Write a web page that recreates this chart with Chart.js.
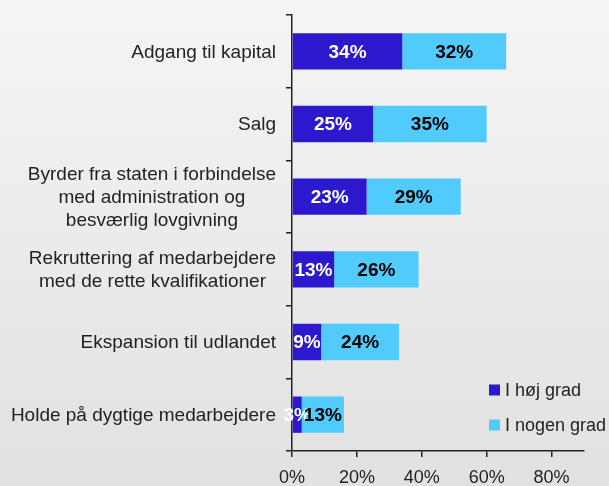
<!DOCTYPE html>
<html>
<head>
<meta charset="utf-8">
<script src="https://cdn.jsdelivr.net/npm/chart.js@4"></script>
<style>
  html, body { margin: 0; padding: 0; }
  body { width: 609px; height: 486px; background: linear-gradient(to bottom, #f5f5f5 0%, #e1e1e1 100%); overflow: hidden; }
  canvas { display: block; }
</style>
</head>
<body>
<canvas id="c" width="609" height="486"></canvas>
<script>
const categories = [
  ["Adgang til kapital"],
  ["Salg"],
  ["Byrder fra staten i forbindelse", "med administration og", "besværlig lovgivning"],
  ["Rekruttering af medarbejdere", "med de rette kvalifikationer"],
  ["Ekspansion til udlandet"],
  ["Holde på dygtige medarbejdere"]
];
const seriesNames = ["I høj grad", "I nogen grad"];
const hojGrad = [34, 25, 23, 13, 9, 3];
const nogenGrad = [32, 35, 29, 26, 24, 13];
const xTickValues = [0, 20, 40, 60, 80];

const FONT = "'Liberation Sans', Arial, sans-serif";
const colors = ["#2c18cd", "#50cbfb"];

const yLabelPlugin = {
  id: 'yLabels',
  afterDraw(chart) {
    const ctx = chart.ctx;
    const ys = chart.scales.y;
    ctx.save();
    ctx.font = "19px " + FONT;
    ctx.fillStyle = "#222";
    ctx.textAlign = "center";
    ctx.textBaseline = "middle";
    const right = ys.right - 16;
    const lh = 23;
    categories.forEach((lines, i) => {
      const yc = ys.getPixelForValue(i) + 1;
      const w = Math.max(...lines.map(l => ctx.measureText(l).width));
      const xc = right - w / 2;
      lines.forEach((l, j) => {
        ctx.fillText(l, xc, yc + (j - (lines.length - 1) / 2) * lh);
      });
    });
    ctx.restore();
  }
};

const valueLabelPlugin = {
  id: 'valueLabels',
  afterDatasetsDraw(chart) {
    const ctx = chart.ctx;
    ctx.save();
    ctx.font = "bold 19px " + FONT;
    ctx.textAlign = "center";
    ctx.textBaseline = "middle";
    chart.data.datasets.forEach((ds, d) => {
      const meta = chart.getDatasetMeta(d);
      ctx.fillStyle = d === 0 ? "#ffffff" : "#000000";
      meta.data.forEach((bar, i) => {
        const p = bar.getProps(['x', 'y', 'base'], true);
        ctx.fillText(ds.data[i] + "%", (p.x + p.base) / 2, p.y + 1);
      });
    });
    ctx.restore();
  }
};

const legendPlugin = {
  id: 'innerLegend',
  afterDraw(chart) {
    const ctx = chart.ctx;
    const ca = chart.chartArea;
    ctx.save();
    ctx.font = "18px " + FONT;
    ctx.textAlign = "left";
    ctx.textBaseline = "middle";
    chart.data.datasets.forEach((ds, d) => {
      const x = ca.right - 95;
      const y = ca.bottom - 61 + d * 35;
      ctx.fillStyle = ds.backgroundColor;
      ctx.fillRect(x, y - 5.5, 11, 11);
      ctx.fillStyle = "#222";
      ctx.fillText(ds.label, x + 16, y + 1);
    });
    ctx.restore();
  }
};

new Chart(document.getElementById('c'), {
  type: 'bar',
  data: {
    labels: categories,
    datasets: [
      { label: seriesNames[0], data: hojGrad, backgroundColor: colors[0], barPercentage: 0.5, categoryPercentage: 1.0 },
      { label: seriesNames[1], data: nogenGrad, backgroundColor: colors[1], barPercentage: 0.5, categoryPercentage: 1.0 }
    ]
  },
  options: {
    indexAxis: 'y',
    responsive: false,
    animation: false,
    layout: { padding: { top: 15, right: 25, bottom: 0, left: 0 } },
    plugins: { legend: { display: false }, tooltip: { enabled: false } },
    scales: {
      x: {
        stacked: true,
        min: 0,
        max: 90,
        afterFit(s) { s.height = 35; },
        afterBuildTicks(s) { s.ticks = xTickValues.map(v => ({ value: v })); },
        ticks: {
          stepSize: 20,
          includeBounds: false,
          callback: v => v + "%",
          font: { family: FONT, size: 18 },
          color: "#222",
          padding: 10,
          maxRotation: 0
        },
        grid: { drawOnChartArea: false, drawTicks: true, tickLength: 6, color: "#222", lineWidth: 1.5 },
        border: { display: true, color: "#222", width: 1.5 }
      },
      y: {
        stacked: true,
        afterFit(s) { s.width = 292; },
        ticks: { display: false },
        grid: { drawOnChartArea: false, drawTicks: true, tickLength: 6, color: "#222", lineWidth: 1.5, offset: true },
        border: { display: true, color: "#222", width: 1.5 }
      }
    }
  },
  plugins: [yLabelPlugin, valueLabelPlugin, legendPlugin]
});
</script>
</body>
</html>
